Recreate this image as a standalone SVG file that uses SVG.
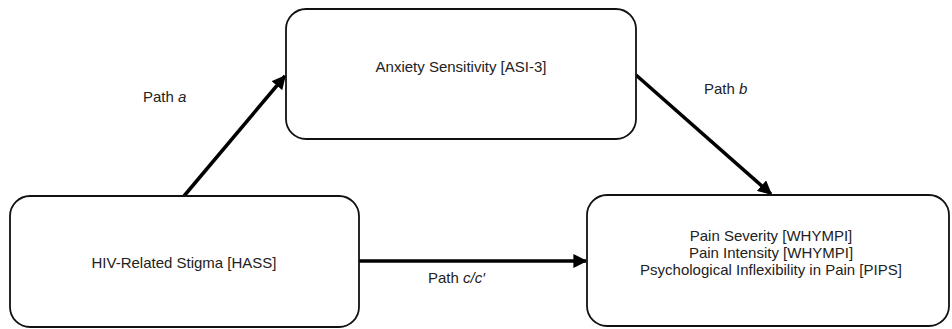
<svg xmlns="http://www.w3.org/2000/svg" width="952" height="329" viewBox="0 0 952 329">
<style>
.box{fill:#fff;stroke:#111;stroke-width:1.8}
.t{font-family:"Liberation Sans",Arial,sans-serif;font-size:15px;fill:#222;text-anchor:middle}
.l{font-family:"Liberation Sans",Arial,sans-serif;font-size:15px;fill:#222}
.c{stroke:#000;stroke-width:3.5;fill:none;marker-end:url(#ah)}
</style>
<defs>
<marker id="ah" viewBox="0 0 10 10" refX="9" refY="5" markerWidth="4" markerHeight="4" orient="auto" markerUnits="strokeWidth">
<path d="M0,0 L10,5 L0,10 z" fill="#000"/>
</marker>
</defs>
<rect width="952" height="329" fill="#fff"/>
<g id="connectors">
<line class="c" x1="184" y1="196" x2="285" y2="76"/>
<line class="c" x1="636" y1="75" x2="771" y2="194"/>
<line class="c" x1="359" y1="261" x2="586" y2="261"/>
</g>
<g id="node-asi">
<rect class="box" x="286" y="9" width="350" height="130" rx="20"/>
<text class="t" x="461" y="72">Anxiety Sensitivity [ASI-3]</text>
</g>
<g id="node-hass">
<rect class="box" x="10" y="196" width="349" height="131" rx="20"/>
<text class="t" x="184" y="268">HIV-Related Stigma [HASS]</text>
</g>
<g id="node-pain">
<rect class="box" x="587" y="195" width="362" height="131" rx="20"/>
<text class="t" x="771" y="241">Pain Severity [WHYMPI]</text>
<text class="t" x="771" y="258">Pain Intensity [WHYMPI]</text>
<text class="t" x="771" y="275">Psychological Inflexibility in Pain [PIPS]</text>
</g>
<g id="labels">
<text class="l" x="143" y="102">Path <tspan font-style="italic">a</tspan></text>
<text class="l" x="704" y="94">Path <tspan font-style="italic">b</tspan></text>
<text class="l" x="428" y="283">Path <tspan font-style="italic">c/c′</tspan></text>
</g>
</svg>
